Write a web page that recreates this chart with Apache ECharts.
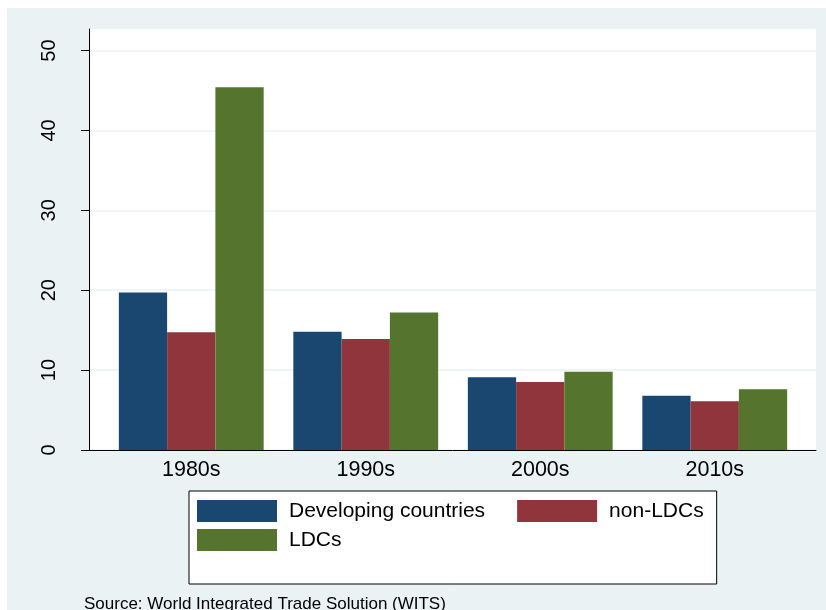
<!DOCTYPE html>
<html>
<head>
<meta charset="utf-8">
<script src="https://cdn.jsdelivr.net/npm/echarts@6/dist/echarts.min.js"></script>
<style>
  html, body { margin: 0; padding: 0; background: #ffffff; width: 826px; height: 610px; overflow: hidden; }
  #chart { position: absolute; left: 7px; top: 8px; width: 819px; height: 602px; }
</style>
</head>
<body>
<div id="chart"></div>
<script>
const categories = ['1980s', '1990s', '2000s', '2010s'];
const developing = [19.7, 14.8, 9.1, 6.8];
const nonLDCs = [14.75, 13.9, 8.5, 6.1];
const LDCs = [45.4, 17.2, 9.8, 7.6];
const yTicks = [0, 10, 20, 30, 40, 50];
const seriesNames = ['Developing countries', 'non-LDCs', 'LDCs'];
const sourceText = 'Source: World Integrated Trade Solution (WITS)';

const FONT = '"Liberation Sans", Arial, Helvetica, sans-serif';
const colors = ['#1A476F', '#90353B', '#55752F'];
const YMAX = 52.7;

const chart = echarts.init(document.getElementById('chart'), null, { renderer: 'canvas' });
chart.setOption({
  backgroundColor: '#EAF2F3',
  animation: false,
  textStyle: { fontFamily: FONT },
  title: {
    text: sourceText,
    left: 77, top: 588, padding: 0,
    textStyle: { fontFamily: FONT, fontSize: 17, fontWeight: 'normal', color: '#000' }
  },
  grid: [
    { left: 82, right: 10, top: 21, bottom: 160, show: true, backgroundColor: '#ffffff', borderWidth: 0 },
    { left: 97, right: 24, top: 21, bottom: 160 }
  ],
  xAxis: [
    { gridIndex: 0, type: 'value', min: 0, max: 1,
      axisLine: { show: true, lineStyle: { color: '#000', width: 1 } },
      axisTick: { show: false }, axisLabel: { show: false }, splitLine: { show: false } },
    { gridIndex: 1, type: 'category', data: categories,
      axisLine: { show: false }, axisTick: { show: false },
      axisLabel: { color: '#000', fontSize: 21.5, fontFamily: FONT, margin: 9 } }
  ],
  yAxis: [
    { gridIndex: 0, type: 'value', min: 0, max: YMAX, interval: 10,
      axisLine: { show: true, lineStyle: { color: '#000', width: 1 } },
      axisTick: { show: true, length: 8, lineStyle: { color: '#000' }, customValues: yTicks },
      axisLabel: { rotate: 90, color: '#000', fontSize: 20, fontFamily: FONT, margin: 30, customValues: yTicks },
      splitLine: { show: true, lineStyle: { color: '#EAF2F3', width: 1.5 } } },
    { gridIndex: 1, type: 'value', min: 0, max: YMAX, show: false, splitLine: { show: false } }
  ],
  legend: [
    {
      data: seriesNames.slice(0, 2),
      left: 182, top: 483,
      orient: 'horizontal',
      padding: [9, 13, 62, 8],
      itemGap: 32,
      itemWidth: 80, itemHeight: 22,
      icon: 'rect',
      backgroundColor: '#ffffff',
      borderColor: '#000', borderWidth: 1,
      itemStyle: { borderWidth: 0 },
      textStyle: { fontFamily: FONT, fontSize: 21, color: '#000', lineHeight: 22, padding: [0, 0, 0, 7] },
      selectedMode: false
    },
    {
      data: seriesNames.slice(2),
      left: 190, top: 521, z: 6,
      padding: 0,
      itemWidth: 80, itemHeight: 22,
      icon: 'rect',
      itemStyle: { borderWidth: 0 },
      textStyle: { fontFamily: FONT, fontSize: 21, color: '#000', lineHeight: 22, padding: [0, 0, 0, 7] },
      selectedMode: false
    }
  ],
  series: [
    { name: seriesNames[0], type: 'bar', xAxisIndex: 1, yAxisIndex: 1, data: developing,
      itemStyle: { color: colors[0] }, barGap: '0%', barCategoryGap: '17%' },
    { name: seriesNames[1], type: 'bar', xAxisIndex: 1, yAxisIndex: 1, data: nonLDCs,
      itemStyle: { color: colors[1] }, barGap: '0%', barCategoryGap: '17%' },
    { name: seriesNames[2], type: 'bar', xAxisIndex: 1, yAxisIndex: 1, data: LDCs,
      itemStyle: { color: colors[2] }, barGap: '0%', barCategoryGap: '17%' }
  ]
});
</script>
</body>
</html>
